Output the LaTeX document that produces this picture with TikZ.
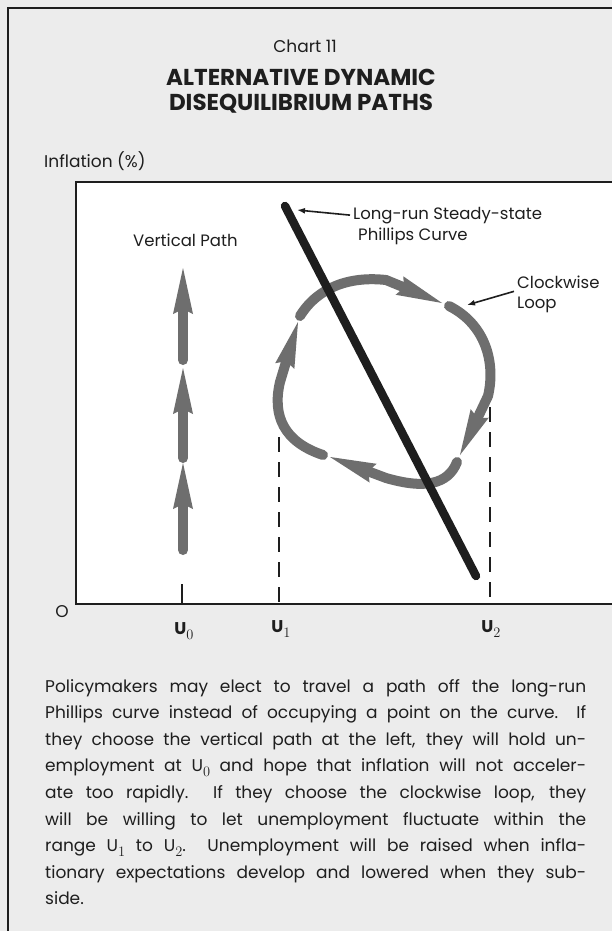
\documentclass[tikz,border=0pt]{standalone}
\usepackage{fontspec}
\setmainfont{Poppins}
\usepackage{tikz}
\usetikzlibrary{arrows.meta}

\definecolor{paper}{HTML}{ECECEC}
\definecolor{ink}{HTML}{1E1E1E}
\definecolor{pathgray}{HTML}{6E6E6E}
\newcommand{\jline}[1]{\makebox[541pt][s]{#1}}
\newcommand{\usub}[1]{\raisebox{-4.5pt}{\fontsize{15}{15}\selectfont$#1$}}

\begin{document}
\begin{tikzpicture}[x=1pt, y=-1pt,
    every node/.style={text=ink, inner sep=3pt},
    pathseg/.style={pathgray, line width=10pt, line cap=round,
        -{Stealth[length=46pt, width=20pt, inset=5pt, line width=0pt]}},
    guide/.style={ink, line width=2.2pt, dash pattern=on 15pt off 10pt},
    callout/.style={ink, line width=1.6pt, -{Latex[length=8pt, width=6pt]}},
    lbl/.style={font=\fontsize{16.5}{20}\selectfont, anchor=base west},
    body/.style={font=\fontsize{17}{20}\selectfont, anchor=base west, inner sep=0pt}]
    \useasboundingbox (0,0) rectangle (612,931);

    % Page and plot area
    \fill[paper] (0,0) rectangle (612,931);
    \fill[white] (76,182) rectangle (612,604);
    \draw[ink, line width=2pt] (8,931) -- (8,8) -- (612,8);

    % Headings
    \node[font=\fontsize{17}{20}\selectfont] (chartno) at (305,46) {Chart 11};
    \node[font=\fontsize{23}{24.5}\selectfont\bfseries, align=center] (title) at (301,91)
        {ALTERNATIVE DYNAMIC\\DISEQUILIBRIUM PATHS};
    \node[lbl, font=\fontsize{17}{20}\selectfont] (ylabel) at (41,167) {Inflation (\%)};

    % Draw Axes
    \draw[ink, line width=2.2pt] (612,182) -- (76,182) -- (76,604) -- (612,604);
    \node[font=\fontsize{17}{20}\selectfont] (origin) at (62,612) {O};

    % Range guides and tick
    \draw[guide] (279,437) -- (279,604);
    \draw[guide] (490,382) -- (490,604);
    \draw[ink, line width=2.2pt] (182,584) -- (182,604);

    % Axis ticks
    \node[font=\fontsize{17}{20}\selectfont] (uzero) at (184,631) {\textbf{U}\usub{0}};
    \node[font=\fontsize{17}{20}\selectfont] (uone) at (281,629) {\textbf{U}\usub{1}};
    \node[font=\fontsize{17}{20}\selectfont] (utwo) at (491,629) {\textbf{U}\usub{2}};

    % Clockwise loop
    \draw[pathseg] (323,455) .. controls (284,442) and (272,416) .. (280,382) -- (298,322);
    \draw[pathseg] (300,316) .. controls (318,287) and (350,276) .. (386,280) -- (442,303);
    \draw[pathseg] (449,306) .. controls (485,324) and (496,362) .. (488,396) -- (460,455);
    \draw[pathseg] (457,462) .. controls (448,485) and (424,489) .. (386,478) -- (330,457);

    % Long-run Phillips curve
    \draw[ink, line width=8.5pt, line cap=round] (285,206) -- (476,576);

    % Vertical path
    \draw[pathseg] (183,360) -- (183,268);
    \draw[pathseg] (183,458) -- (183,368);
    \draw[pathseg] (183,550) -- (183,463);
    \node[lbl] (vertlabel) at (130,246) {Vertical Path};

    % Labels with pointers
    \node[lbl] (lrtext) at (350,219) {Long-run Steady-state};
    \node[lbl] (lrtext2) at (355,240) {Phillips Curve};
    \coordinate (lrtip) at (297,210);
    \draw[callout] (lrtext.west) -- (lrtip);
    \node[lbl] (cwtext) at (514,288) {Clockwise};
    \node[lbl] (cwtext2) at (514,308) {Loop};
    \coordinate (cwtip) at (467,305);
    \draw[callout] (cwtext.south west) -- (cwtip);

    % Caption
    \node[body] (cap1) at (45,692) {\jline{Policymakers may elect to travel a path off the long-run}};
    \node[body] (cap2) at (45,718.6) {\jline{Phillips curve instead of occupying a point on the curve.\ \ If}};
    \node[body] (cap3) at (45,745.2) {\jline{they choose the vertical path at the left, they will hold un-}};
    \node[body] (cap4) at (45,771.8) {\jline{employment at U\usub{0} and hope that inflation will not acceler-}};
    \node[body] (cap5) at (45,798.4) {\jline{ate too rapidly.\ \ If they choose the clockwise loop, they}};
    \node[body] (cap6) at (45,825) {\jline{will be willing to let unemployment fluctuate within the}};
    \node[body] (cap7) at (45,851.6) {\jline{range U\usub{1} to U\usub{2}.\ \ Unemployment will be raised when infla-}};
    \node[body] (cap8) at (45,878.2) {\jline{tionary expectations develop and lowered when they sub-}};
    \node[body] (cap9) at (45,904.8) {side.};
\end{tikzpicture}
\end{document}
